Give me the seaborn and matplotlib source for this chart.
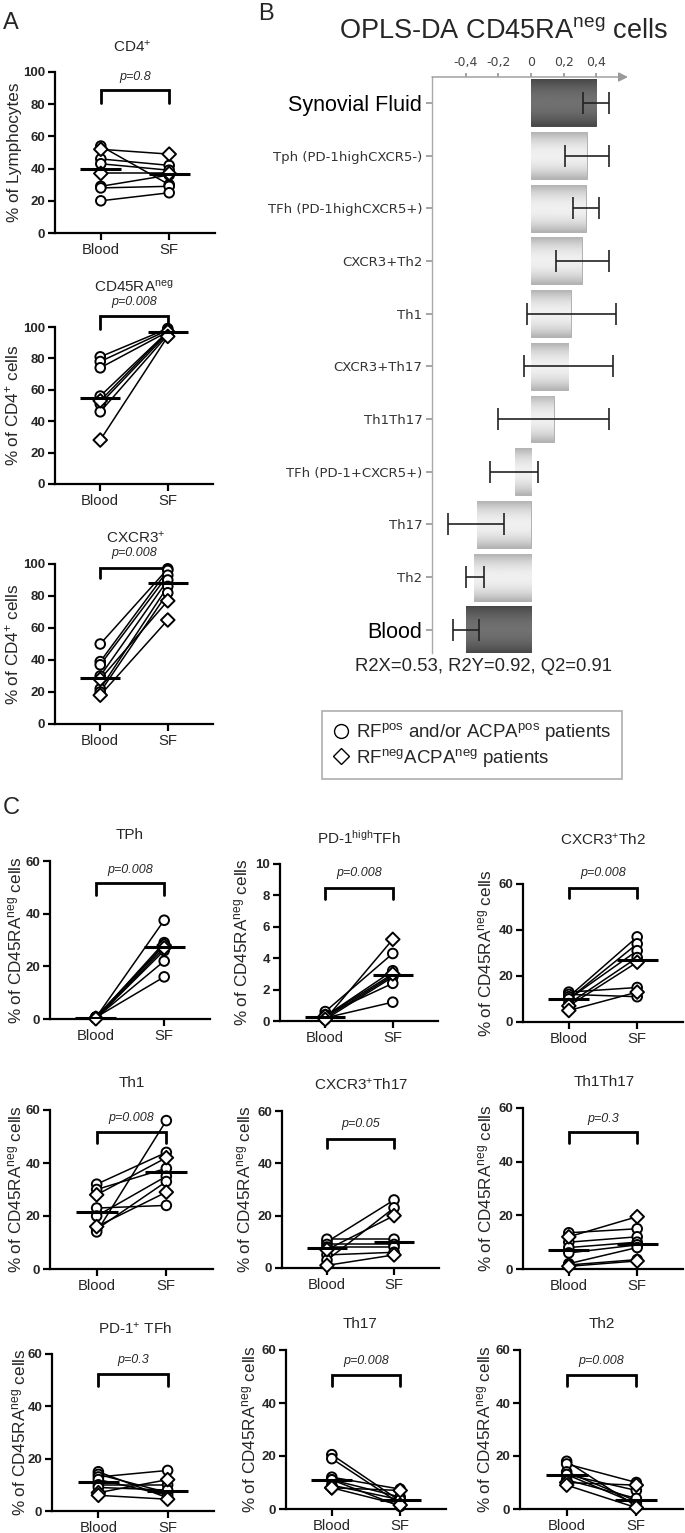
import numpy as np
import pandas as pd
import matplotlib
matplotlib.use("Agg")
import matplotlib.pyplot as plt
import seaborn as sns
from matplotlib.lines import Line2D

# ---------------- data ----------------
sites = ["Blood", "SF"]
patient_group = ["pos", "pos", "pos", "pos", "pos", "pos", "neg", "neg"]

cd4_blood = [54, 46, 43, 29, 28, 20, 37, 52]
cd4_sf = [30, 42, 39, 36, 29, 25, 37, 49]
cd45ra_blood = [81, 78, 74, 56, 51, 46, 53, 28]
cd45ra_sf = [99, 98, 97, 97, 96, 95, 97, 94]
cxcr3_blood = [50, 39, 37, 30, 22, 20, 28, 18]
cxcr3_sf = [97, 96, 93, 90, 86, 82, 77, 65]

tph_blood = [0.5, 0.3, 0.8, 0.2, 0.4, 0.6, 0.3, 0.1]
tph_sf = [37.5, 29, 28, 26, 22, 16, 28, 27]
tfhhigh_blood = [0.6, 0.3, 0.2, 0.1, 0.4, 0.2, 0.3, 0.1]
tfhhigh_sf = [4.3, 3.2, 2.9, 2.8, 2.4, 1.2, 3.0, 5.2]
cxcr3th2_blood = [13, 12, 11, 10, 10, 8, 7, 5]
cxcr3th2_sf = [15, 11, 37, 34, 31, 28, 26, 13]
th1_blood = [32, 30, 23, 20, 15, 14, 28, 16]
th1_sf = [44, 38, 24, 35, 33, 56, 42, 29]
cxcr3th17_blood = [10, 11, 9, 8, 5, 3, 7, 1]
cxcr3th17_sf = [26, 11, 9, 8, 6, 23, 20, 5]
th1th17_blood = [13.5, 10, 8, 6, 2, 1.5, 12, 1]
th1th17_sf = [15, 12, 10, 9, 8, 3.5, 19.5, 3]
tfh_blood = [15, 14, 13, 12, 10, 9, 7, 6]
tfh_sf = [5, 7, 15.5, 6, 10, 8, 12, 4.5]
th17_blood = [20.5, 19, 12, 11, 11, 9, 8, 8]
th17_sf = [3, 2, 7.5, 1, 4.5, 3.5, 7, 1.5]
th2_blood = [18, 17, 14, 13, 13, 11, 10, 9]
th2_sf = [1, 10, 3, 7, 2, 4, 9, 0.5]

p_values = ["p=0.8", "p=0.008", "p=0.008",
            "p=0.008", "p=0.008", "p=0.008",
            "p=0.008", "p=0.05", "p=0.3",
            "p=0.3", "p=0.008", "p=0.008"]

opls_labels = ["Synovial Fluid", "Tph (PD-1highCXCR5-)", "TFh (PD-1highCXCR5+)",
               "CXCR3+Th2", "Th1", "CXCR3+Th17", "Th1Th17", "TFh (PD-1+CXCR5+)",
               "Th17", "Th2", "Blood"]
opls_values = [0.40, 0.343, 0.337, 0.31, 0.245, 0.228, 0.14, -0.10, -0.33, -0.35, -0.40]
opls_ci_low = [0.32, 0.21, 0.26, 0.155, -0.025, -0.045, -0.20, -0.25, -0.51, -0.40, -0.48]
opls_ci_high = [0.48, 0.48, 0.42, 0.48, 0.52, 0.50, 0.48, 0.043, -0.165, -0.29, -0.32]
opls_xticks = [-0.4, -0.2, 0, 0.2, 0.4]
opls_xticklabels = ["-0,4", "-0,2", "0", "0,2", "0,4"]

# ---------------- style ----------------
sns.set_theme(style="ticks")
plt.rcParams["font.family"] = ["Liberation Sans", "DejaVu Sans"]
plt.rcParams["mathtext.default"] = "regular"

W, H = 685, 1533
fig = plt.figure(figsize=(W / 100, H / 100), dpi=100)


def fx(px):
    return px / W


def fy(py):
    return 1 - py / H


def add_axes_px(l, t, r, b):
    return fig.add_axes([fx(l), fy(b), (r - l) / W, (b - t) / H])


# panel layout: (blood, sf, title, title_xy, box, ylim, yticks, ylabel, label_x, bracket(top, leg, p_y))
ylab_cd45 = "% of CD45RA$^{neg}$ cells"
panels = [
    (cd4_blood, cd4_sf, "CD4$^{+}$", (132, 47), (55, 72, 215, 233), (0, 100), [0, 20, 40, 60, 80, 100],
     "% of Lymphocytes", 22, (88.8, 81, 97)),
    (cd45ra_blood, cd45ra_sf, "CD45RA$^{neg}$", (134, 287), (55, 327, 213, 484), (0, 100), [0, 20, 40, 60, 80, 100],
     "% of CD4$^{+}$ cells", 21, (107, 99, 116)),
    (cxcr3_blood, cxcr3_sf, "CXCR3$^{+}$", (136, 538), (55, 564, 213, 724), (0, 100), [0, 20, 40, 60, 80, 100],
     "% of CD4$^{+}$ cells", 21, (97.5, 91, 107)),
    (tph_blood, tph_sf, "TPh", (130, 835), (50, 861, 210, 1019), (0, 60), [0, 20, 40, 60],
     ylab_cd45, 24, (51.6, 47, 56.5)),
    (tfhhigh_blood, tfhhigh_sf, "PD-1$^{high}$TFh", (359, 838), (280, 864, 438, 1021), (0, 10), [0, 2, 4, 6, 8, 10],
     ylab_cd45, 250, (8.5, 7.8, 9.4)),
    (cxcr3th2_blood, cxcr3th2_sf, "CXCR3$^{+}$Th2", (603, 840), (523, 884, 683, 1022), (0, 60), [0, 20, 40, 60],
     ylab_cd45, 494, (58.3, 53.9, 64.8)),
    (th1_blood, th1_sf, "Th1", (132, 1083), (50, 1110, 213, 1269), (0, 60), [0, 20, 40, 60],
     ylab_cd45, 24, (51.7, 47.5, 57)),
    (cxcr3th17_blood, cxcr3th17_sf, "CXCR3$^{+}$Th17", (361, 1085), (282, 1111, 439, 1268), (0, 60), [0, 20, 40, 60],
     ylab_cd45, 253, (49.4, 45.7, 55)),
    (th1th17_blood, th1th17_sf, "Th1Th17", (604, 1082), (523, 1108, 683, 1269), (0, 60), [0, 20, 40, 60],
     ylab_cd45, 494, (51, 47, 56)),
    (tfh_blood, tfh_sf, "PD-1$^{+}$ TFh", (135, 1329), (52, 1354, 214, 1511), (0, 60), [0, 20, 40, 60],
     ylab_cd45, 28, (52.3, 47.7, 57.7)),
    (th17_blood, th17_sf, "Th17", (360, 1324), (286, 1350, 446, 1509), (0, 60), [0, 20, 40, 60],
     ylab_cd45, 258, (50.6, 46.4, 56)),
    (th2_blood, th2_sf, "Th2", (602, 1324), (520, 1350, 683, 1509), (0, 60), [0, 20, 40, 60],
     ylab_cd45, 493, (50.6, 46.4, 56)),
]

for i, (blood, sf, title, txy, box, ylim, yticks, ylabel, lab_x, br) in enumerate(panels):
    ax = add_axes_px(*box)
    n = len(blood)
    df = pd.DataFrame({
        "patient": list(range(n)) * 2,
        "x": [0] * n + [1] * n,
        "value": list(blood) + list(sf),
        "group": patient_group * 2,
    })
    sns.lineplot(data=df, x="x", y="value", units="patient", estimator=None,
                 color="black", lw=1.1, ax=ax, legend=False, zorder=2)
    sns.scatterplot(data=df, x="x", y="value", style="group",
                    markers={"pos": "o", "neg": "D"}, s=48, color="white",
                    edgecolor="black", linewidth=1.4, legend=False, ax=ax,
                    zorder=3, clip_on=False)
    med = df.groupby("x")["value"].median()
    ax.hlines(med.values, med.index - 0.3, med.index + 0.3, color="black", lw=2.2, zorder=4)

    ax.set_xlim(-0.67, 1.67)
    ax.set_ylim(*ylim)
    ax.set_xticks([0, 1])
    ax.set_xticklabels(sites, fontsize=10.7)
    ax.set_yticks(yticks)
    ax.set_yticklabels([str(v) for v in yticks], fontsize=9.5, fontweight="bold")
    ax.set_xlabel("")
    ax.set_ylabel(ylabel, fontsize=12.3)
    ax.yaxis.set_label_coords((lab_x - box[0]) / (box[2] - box[0]), 0.5)
    sns.despine(ax=ax)
    for s in ["left", "bottom"]:
        ax.spines[s].set_linewidth(1.6)
        ax.spines[s].set_color("black")
    ax.tick_params(axis="both", length=5, width=1.6, color="black", pad=2)
    ax.set_facecolor("none")

    # bracket + p-value
    top, leg, py = br
    ax.plot([0, 0, 1, 1], [leg, top, top, leg], color="black", lw=2.0,
            clip_on=False, solid_joinstyle="miter")
    ax.text(0.5, py, p_values[i], ha="center", va="center", fontsize=9,
            style="italic", clip_on=False)

    fig.text(fx(txy[0]), fy(txy[1]), title, ha="center", va="center", fontsize=11)

# ---------------- panel B ----------------
axb = add_axes_px(432, 77, 628, 653)
dark = [lab in ("Synovial Fluid", "Blood") for lab in opls_labels]
colors = ["#555555" if d else "#d6d6d6" for d in dark]
sns.barplot(x=opls_values, y=opls_labels, hue=opls_labels, palette=colors,
            order=opls_labels, hue_order=opls_labels, orient="h", width=0.89,
            saturation=1, legend=False, ax=axb)

for patch, d in zip(axb.patches, dark):
    patch.set_edgecolor("#3a3a3a" if d else "#a8a8a8")
    patch.set_linewidth(0.6)
    x0, y0 = patch.get_x(), patch.get_y()
    w, h = patch.get_width(), patch.get_height()
    t = np.linspace(0, 1, 64)
    prof = 1 - (2 * t - 1) ** 2
    c = (0.28 + 0.16 * prof) if d else (0.70 + 0.24 * prof)
    img = np.tile(c[:, None], (1, 2))
    im = axb.imshow(img, cmap="gray", vmin=0, vmax=1,
                    extent=[min(x0, x0 + w), max(x0, x0 + w), y0 + h, y0],
                    aspect="auto", interpolation="bilinear", zorder=1.5)
    im.set_clip_path(patch)

vals = np.array(opls_values)
lo = vals - np.array(opls_ci_low)
hi = np.array(opls_ci_high) - vals
axb.errorbar(vals, np.arange(len(vals)), xerr=[lo, hi], fmt="none",
             ecolor="#222222", elinewidth=1.2, capsize=8, capthick=1.2, zorder=3)

axb.set_xlim(-0.607, 0.595)
axb.set_ylim(len(vals) - 1 + 0.44, -0.49)
axb.xaxis.tick_top()
axb.set_xticks(opls_xticks)
axb.set_xticklabels(opls_xticklabels, fontsize=9, family="DejaVu Sans", color="#444444")
axb.tick_params(axis="x", length=3, color="#999999", pad=3)
axb.tick_params(axis="y", length=4, color="#999999", pad=3)
axb.set_xlabel("")
axb.set_ylabel("")
for s in ["right", "bottom", "top"]:
    axb.spines[s].set_visible(False)
axb.spines["left"].set_color("#aaaaaa")
axb.spines["left"].set_linewidth(1.0)
axb.annotate("", xy=(1.0, 1.0), xytext=(0.0, 1.0), xycoords="axes fraction",
             arrowprops=dict(arrowstyle="-|>", color="#999999", lw=1.0,
                             mutation_scale=14, shrinkA=0, shrinkB=0))
for lbl in axb.get_yticklabels():
    if lbl.get_text() in ("Synovial Fluid", "Blood"):
        lbl.set_fontsize(15.5)
        lbl.set_color("black")
    else:
        lbl.set_fontsize(9.5)
        lbl.set_family("DejaVu Sans")
        lbl.set_color("#333333")

fig.text(fx(504), fy(38), "OPLS-DA CD45RA$^{neg}$ cells", ha="center", va="baseline", fontsize=19.5)
fig.text(fx(483), fy(667), "R2X=0.53, R2Y=0.92, Q2=0.91", ha="center", va="center", fontsize=13.3)

# legend
handles = [
    Line2D([], [], marker="o", ls="none", mfc="white", mec="black", ms=10, mew=1.0),
    Line2D([], [], marker="D", ls="none", mfc="white", mec="black", ms=8.5, mew=1.0),
]
leg = fig.legend(handles, ["RF$^{pos}$ and/or ACPA$^{pos}$ patients", "RF$^{neg}$ACPA$^{neg}$ patients"],
                 loc="center", bbox_to_anchor=(fx(472), fy(745)), fontsize=13.5,
                 frameon=True, fancybox=False, edgecolor="#999999", handletextpad=0.3,
                 handlelength=1.0, borderpad=0.55, labelspacing=0.2)
leg.get_frame().set_linewidth(1.2)

# panel letters
fig.text(fx(11), fy(23), "A", ha="center", va="center", fontsize=17)
fig.text(fx(266), fy(14), "B", ha="center", va="center", fontsize=17)
fig.text(fx(11), fy(808), "C", ha="center", va="center", fontsize=17)

fig.savefig("out.png", dpi=100)
